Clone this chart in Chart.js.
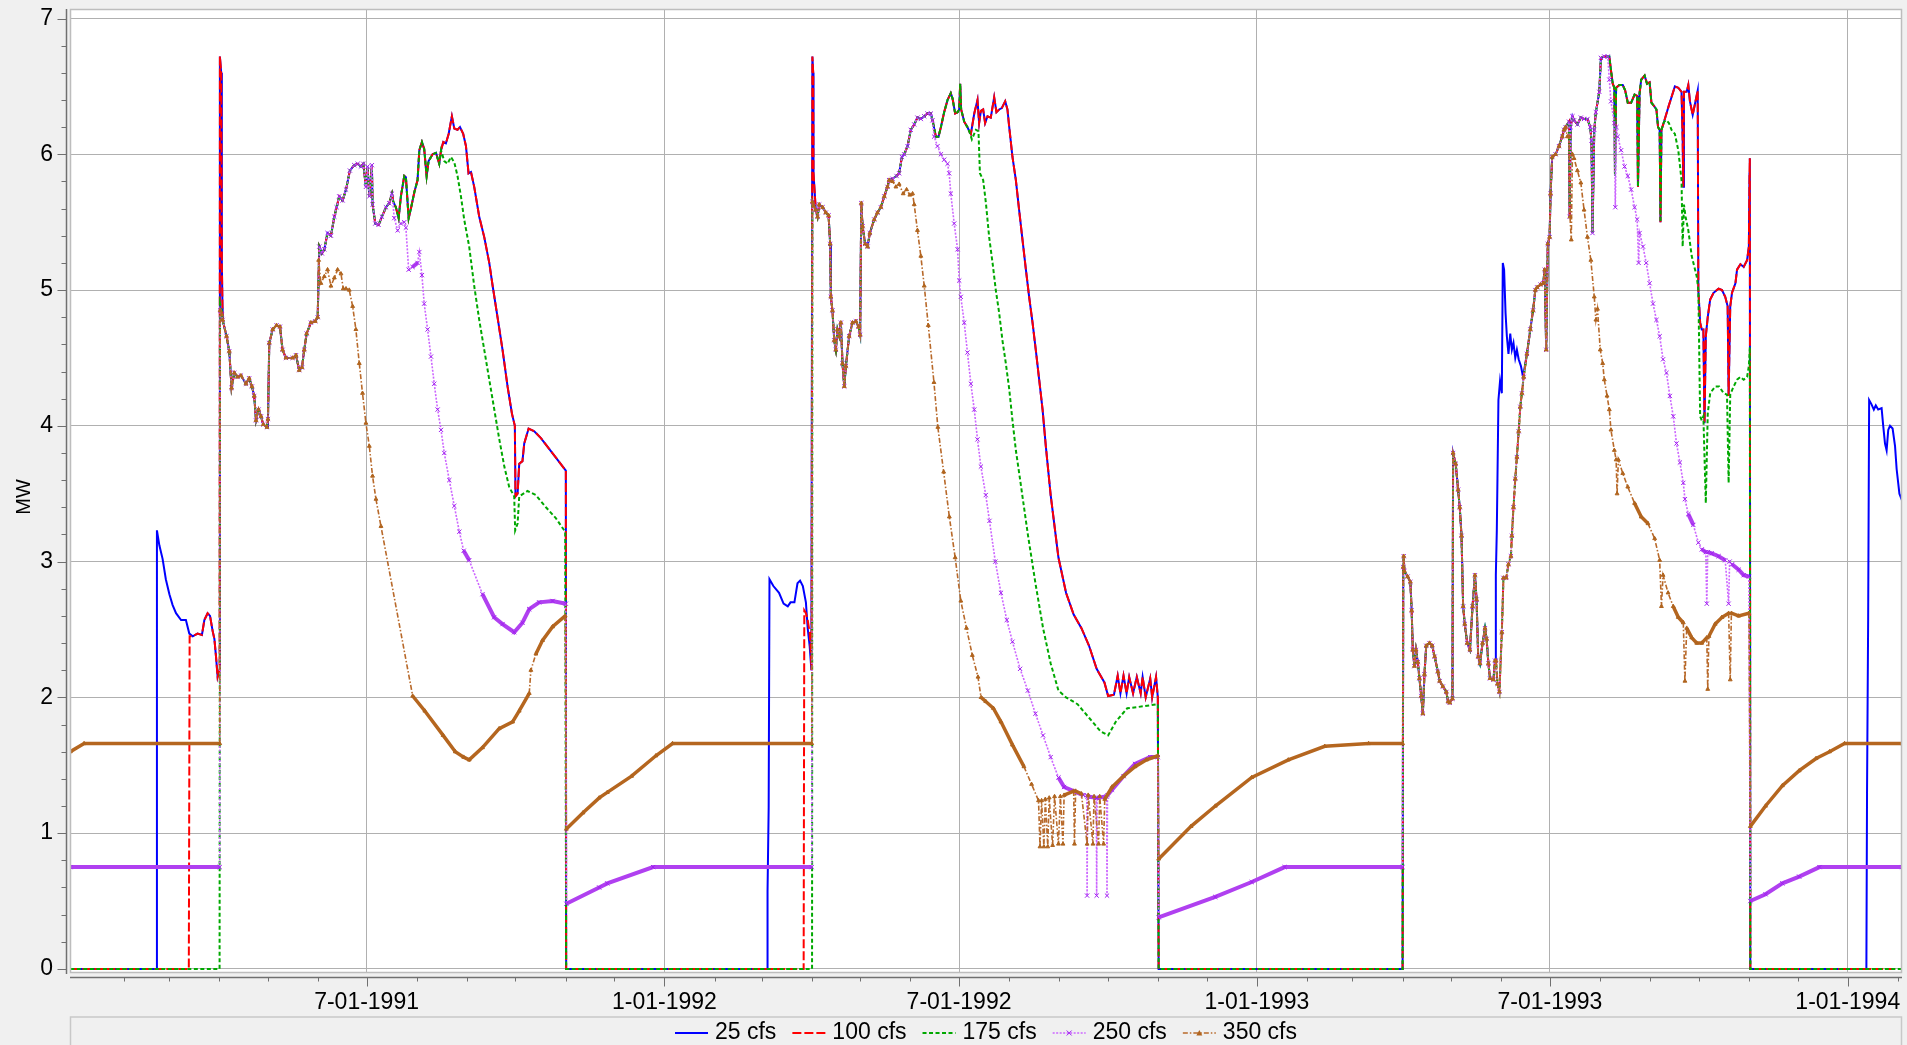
<!DOCTYPE html>
<html><head><meta charset="utf-8">
<script src="https://cdn.jsdelivr.net/npm/chart.js@4.4.1/dist/chart.umd.min.js"></script>
<style>html,body{margin:0;padding:0;background:#f0f0f0;overflow:hidden}</style>
</head><body>
<canvas id="c" width="1907" height="1045"></canvas>
<script>
// x values are day numbers counted from 1991-01-01 (day 0); y values are MW.
const EPOCH = Date.UTC(1991, 0, 1);
const SERIES_LABELS = ['25 cfs', '100 cfs', '175 cfs', '250 cfs', '350 cfs'];
const Y_TICKS = [0, 1, 2, 3, 4, 5, 6, 7];
const X_MIN = -2.2, X_MAX = 1129.5, Y_MIN = -0.03, Y_MAX = 7.07;

// ---- 1991 ----
const blue91pre = [[-2,0],[51.2,0],[51.5,3.23],[53,3.12],[55,3.02],[57,2.87],[59.2,2.76],[61.2,2.68],[63.3,2.62],[66.4,2.57],[69.4,2.57],[71.5,2.47],[73.6,2.45]];
const red91pre = [[-2,0],[71.2,0],[71.7,2.45],[73.6,2.45]];
const common91a = [[76.6,2.47],[79.3,2.46],[80.8,2.57],[82.8,2.62],[84.3,2.60],[85.9,2.49],[87,2.43],[88,2.30],[89,2.15],[90.2,2.2]];
const spike91 = [[90.4,6.72],[91.2,6.6],[91.6,5.2],[92.0,4.87]];
const green91pre = [[-2,0],[90.2,0],[90.5,4.9],[91.5,4.85]];
const purple91pre = [[-2,0.75],[90.3,0.75],[90.6,4.85],[91.5,4.82]];
const brown91pre = [[-2,1.60],[6.5,1.66],[90.3,1.66],[90.6,4.85],[91.5,4.82]];
const main91a = [[92.1,4.78],[94.5,4.66],[96.2,4.55],[97.6,4.28],[99.3,4.39],[101.3,4.36],[103.4,4.37],[106.5,4.31],[108.5,4.35],[110.2,4.29],[111.6,4.22],[112.7,4.04],[114.3,4.12],[115.8,4.07],[117.2,4.01],[119.5,3.99],[120.1,4.05],[120.9,4.61],[123.0,4.71],[125.4,4.74],[127.5,4.73],[129.1,4.56],[131.2,4.50],[135.3,4.50],[137.4,4.52],[139.4,4.41],[141.1,4.43],[142.5,4.56],[144.0,4.68],[146.6,4.76],[149.3,4.77],[150.8,4.80]];
const main91b = [[151.8,5.32],[153.4,5.27],[154.9,5.30],[156.9,5.42],[159.0,5.40],[161.1,5.54],[162.5,5.61],[164.1,5.69],[166.2,5.66],[168.3,5.74],[170.7,5.88],[173.4,5.92],[175.5,5.93],[177.5,5.91],[179.0,5.93],[180.6,5.76],[181.6,5.91],[182.7,5.69],[184.3,5.92],[184.7,5.63],[186.4,5.49],[188.4,5.48],[190.5,5.54],[193.0,5.61],[195.0,5.64],[196.7,5.71]];
const main91c = [[197.5,5.65],[199.1,5.61],[200.8,5.53],[202.2,5.69],[204.3,5.84],[205.3,5.83],[207.0,5.53],[208.4,5.60],[210.5,5.72],[212.5,5.81],[213.6,6.03],[215.2,6.09],[216.6,6.04],[218.1,5.84],[219.3,5.95],[221.8,6.00],[223.9,6.01],[225.9,5.93],[227.0,6.03]];
const red91tail = [[228.4,6.09],[230.0,6.08],[231.7,6.15],[233.7,6.28],[235.2,6.19],[237.2,6.18],[238.7,6.20],[240.7,6.15],[242.4,6.06],[244.0,5.86],[245.5,5.87],[247.5,5.76],[250.6,5.54],[253.7,5.39],[256.8,5.20],[258.9,5.03],[261.9,4.80],[265.0,4.56],[268.1,4.29],[270.8,4.09],[272.6,4.00],[273.0,3.48],[274.3,3.50],[275.3,3.72],[277.3,3.74],[278.4,3.87],[281.1,3.98],[284.6,3.96],[288.7,3.91],[293.8,3.83],[299.0,3.75],[304.1,3.67],[304.3,0]];
const green91tail = [[229.0,5.95],[231.0,5.93],[233.1,5.98],[235.2,5.94],[237.2,5.84],[239.3,5.69],[241.3,5.52],[244.4,5.32],[247.5,5.03],[250.6,4.78],[253.7,4.56],[256.8,4.34],[259.9,4.12],[263.0,3.90],[266.1,3.70],[269.1,3.55],[272.2,3.48],[272.8,3.23],[274.3,3.28],[275.3,3.48],[280.4,3.52],[285.6,3.49],[291.8,3.40],[297.9,3.32],[303.7,3.22],[304.3,0]];
const purple91tail = [[198.1,5.53],[200.2,5.44],[202.2,5.49],[204.3,5.50],[205.3,5.46],[207.0,5.15],[209.4,5.17],[212.5,5.20],[213.6,5.28],[215.2,5.11],[216.6,4.90],[218.7,4.71],[220.8,4.51],[222.8,4.31],[224.9,4.12],[227.0,3.97],[229.0,3.80],[232.1,3.60],[235.2,3.41],[238.3,3.22],[241.0,3.08],[244.4,3.01],[252.6,2.76],[259.8,2.59],[265.0,2.54],[272.2,2.48],[277.3,2.55],[281.5,2.65],[287.6,2.70],[295.9,2.71],[304.1,2.69],[304.4,0.48]];
const brown91tail = [[151.4,5.22],[152.8,5.05],[154.9,5.10],[156.9,5.15],[159.0,5.03],[161.1,5.09],[163.1,5.15],[165.2,5.12],[166.6,5.01],[168.3,5.01],[170.3,5.00],[172.4,4.88],[174.4,4.71],[176.5,4.46],[178.5,4.24],[180.6,4.02],[182.7,3.85],[184.7,3.63],[186.8,3.46],[189.9,3.26],[209.5,2.01],[217,1.90],[228.3,1.72],[235.8,1.60],[241,1.56],[244.4,1.54],[252.6,1.63],[262.9,1.77],[271.2,1.82],[275.3,1.90],[281.5,2.03],[282.5,2.20],[285.6,2.32],[289.7,2.42],[295.9,2.52],[303.7,2.60],[304.4,1.03]];

// ---- winter 1991-92 and 1992 ----
const brown9192 = [[314.7,1.15],[324.7,1.26],[329.7,1.30],[344.7,1.42],[359.7,1.57],[370,1.66],[456.0,1.66]];
const purple9192 = [[324.7,0.60],[329.7,0.63],[358,0.75],[456.0,0.75]];
const blue9192 = [[304.4,0],[428.5,0],[428.7,0.57],[429.4,1.19],[429.9,2.87],[432.3,2.82],[435.8,2.77],[438.6,2.69],[441.2,2.67],[442.9,2.70],[445.3,2.70],[447.2,2.84],[448.8,2.86],[450.5,2.82],[452.4,2.70],[453.5,2.51],[454.7,2.38],[455.8,2.2]];
const red9192 = [[304.4,0],[451.0,0],[451.4,2.64],[452.4,2.62],[453.5,2.57],[454.7,2.48],[455.4,2.34],[455.9,2.2]];
const green9192 = [[304.4,0],[456.2,0]];
const spike92 = [[456.4,6.72],[456.9,6.6],[457.1,5.86]];
const spike92low = [[456.4,5.65],[457.3,5.62]];
const main92a = [[458.5,5.59],[459.6,5.54],[460.6,5.63],[462.7,5.61],[464.7,5.57],[466.4,5.55],[467.4,5.34],[467.8,4.95],[468.8,4.85],[469.9,4.63],[470.9,4.56],[471.9,4.71],[473.0,4.66],[474.0,4.76],[475.0,4.46],[476.1,4.29],[477.1,4.44],[479.1,4.66],[481.2,4.76],[483.3,4.77],[484.9,4.73],[485.9,4.67],[486.6,5.64],[487.4,5.47],[489.0,5.34],[490.5,5.32],[491.9,5.42],[494.6,5.52],[496.6,5.57],[498.7,5.61],[500.8,5.69],[502.8,5.76],[503.8,5.81]];
const main92b = [[505.9,5.82],[508.4,5.84],[510.0,5.86],[511.7,5.98],[513.1,6.00],[515.2,6.06],[517.2,6.18],[519.3,6.22],[521.3,6.27],[523.4,6.26],[525.5,6.28],[527.5,6.30],[529.6,6.30],[530.6,6.25]];
const main92c = [[532.7,6.13],[534.3,6.13],[535.8,6.20],[537.8,6.31],[539.9,6.40],[541.9,6.45],[543.0,6.41],[544.6,6.30],[546.1,6.31],[547.1,6.33],[547.7,6.52],[548.3,6.33],[550.2,6.24],[552.2,6.20],[553.3,6.17]];
const red92tail = [[554.3,6.15],[556.4,6.30],[558.4,6.40],[559.4,6.23],[560.5,6.32],[561.9,6.33],[563.1,6.23],[564.6,6.28],[566.6,6.27],[568.7,6.42],[570.1,6.31],[571.8,6.33],[573.4,6.34],[575.5,6.39],[576.9,6.33],[578.0,6.20],[580.0,5.98],[582.1,5.81],[584.1,5.59],[586.2,5.37],[588.3,5.15],[590.3,4.95],[592.4,4.76],[594.4,4.56],[596.5,4.34],[598.6,4.12],[600.6,3.85],[603.6,3.49],[608.4,3.03],[613.1,2.77],[617.8,2.61],[622.6,2.51],[627.3,2.38],[632.0,2.21],[636.8,2.11],[639.1,2.01],[642.7,2.02],[645.0,2.16],[646.7,2.03],[648.6,2.16],[650.5,2.03],[652.1,2.15],[654.5,2.03],[656.8,2.15],[659.2,2.03],[660.4,2.15],[662.3,2.00],[665.1,2.14],[666.3,2.00],[668.7,2.15],[669.8,2.00],[670.3,0]];
const green92tail = [[554.9,6.11],[557.4,6.18],[559.0,6.17],[559.9,5.86],[561.9,5.81],[563.6,5.64],[565.6,5.39],[567.7,5.20],[569.7,5.00],[571.8,4.83],[573.8,4.63],[575.9,4.46],[578.0,4.27],[580.0,4.04],[582.1,3.82],[584.4,3.63],[589.5,3.20],[594.2,2.84],[598.9,2.51],[603.6,2.25],[608.4,2.05],[613.1,2.00],[620.2,1.95],[627.3,1.85],[634.4,1.75],[639.1,1.72],[643.8,1.82],[650.9,1.92],[658.0,1.93],[669.8,1.95],[670.3,0]];
const purple92tail = [[531.6,6.13],[533.7,6.06],[535.8,6.00],[537.8,5.96],[539.9,5.93],[540.9,5.86],[541.9,5.71],[544.0,5.49],[546.1,5.30],[547.1,5.07],[548.1,4.95],[550.2,4.76],[552.2,4.54],[554.3,4.31],[556.4,4.12],[558.4,3.90],[560.5,3.70],[563.5,3.49],[565.8,3.30],[569.4,3.00],[572.9,2.77],[576.5,2.57],[580.0,2.41],[584.7,2.21],[589.5,2.05],[594.2,1.88],[598.9,1.72],[603.6,1.56],[608.4,1.41],[611.9,1.34],[617.8,1.31],[623.7,1.28],[625.9,1.28],[626.1,0.54],[626.4,1.27],[631.8,1.26],[632.0,0.54],[632.3,1.26],[638.2,1.27],[638.4,0.54],[638.7,1.28],[641.5,1.32],[648.6,1.42],[655.7,1.51],[665.1,1.56],[669.8,1.56],[670.3,0.38]];
const brown92tail = [[505.9,5.80],[508.0,5.76],[510.0,5.78],[512.5,5.71],[514.6,5.74],[516.6,5.70],[518.3,5.71],[519.3,5.63],[521.3,5.44],[523.4,5.25],[525.5,5.03],[528.0,4.74],[531.5,4.32],[533.9,3.99],[537.5,3.66],[541.0,3.33],[544.6,3.03],[548.1,2.71],[551.6,2.51],[555.2,2.31],[558.7,2.15],[560.6,2.00],[563.5,1.97],[568.2,1.92],[572.9,1.82],[580.0,1.65],[587.1,1.49],[591.8,1.36],[596.1,1.24],[597.0,0.90],[598.0,1.24],[599.4,0.90],[600.3,1.25],[601.8,0.90],[602.7,1.26],[604.8,0.91],[606.0,1.27],[608.4,0.92],[609.6,1.27],[611.2,0.92],[611.9,1.28],[617.8,1.31],[618.3,0.92],[619.0,1.31],[622.6,1.29],[626.1,0.92],[626.8,1.28],[629.7,0.92],[630.4,1.27],[633.2,0.92],[633.9,1.27],[636.3,0.92],[637.0,1.25],[641.5,1.34],[648.6,1.42],[655.7,1.49],[662.8,1.54],[669.8,1.57],[670.3,0.81]];

// ---- winter 1992-93 and 1993 ----
const brown9293 = [[690.3,1.05],[705.3,1.20],[727.8,1.41],[750.4,1.54],[772.9,1.64],[800,1.66],[821.0,1.66]];
const purple9293 = [[705.3,0.53],[727.8,0.64],[748.1,0.75],[821.0,0.75]];
const zero9293 = [[670.3,0],[821.0,0]];
const main93a = [[821.4,2.96],[821.7,3.04],[822.1,2.93],[824.1,2.89],[825.8,2.85],[826.6,2.64],[827.3,2.35],[828.3,2.23],[829.3,2.35],[830.4,2.26],[831.4,2.14],[832.5,2.01],[833.5,1.88],[834.5,2.17],[835.6,2.38],[837.6,2.40],[839.3,2.38],[840.8,2.30],[842.8,2.19],[843.9,2.12],[845.9,2.08],[848.0,2.04],[849.1,1.97],[850.1,1.96],[851.8,1.99],[852.2,3.80],[853.8,3.72],[855.3,3.53],[856.3,3.40],[857.4,3.19],[858.4,2.67],[859.4,2.54],[860.9,2.40],[862.6,2.35],[864.2,2.67],[865.7,2.90],[866.7,2.72],[867.7,2.30],[868.8,2.25],[870.4,2.40],[871.9,2.51],[872.9,2.43],[874.0,2.25],[875.0,2.14],[877.1,2.13],[878.1,2.27]];
const blue93 = [[878.6,2.9],[879.2,3.23],[879.6,3.61],[880.2,4.19],[881.2,4.33],[882.3,4.24],[882.9,5.20],[883.7,5.15],[884.6,4.83],[885.4,4.66],[886.4,4.53],[887.5,4.68],[888.5,4.56],[889.5,4.61],[890.6,4.50],[891.6,4.56],[892.7,4.49],[894.1,4.44],[895.4,4.36]];
const nonblue93 = [[878.7,2.27],[879.6,2.10],[880.8,2.04],[882.3,2.48],[883.3,2.88],[885.0,2.88],[886.4,2.98],[887.9,3.04],[888.5,3.19],[889.5,3.40],[890.6,3.61],[891.6,3.77],[892.7,3.96],[893.7,4.14],[894.7,4.24]];
const main93b = [[895.8,4.36],[897.8,4.53],[899.9,4.71],[901.6,4.85],[903.0,5.00],[904.1,5.02],[906.2,5.04],[907.8,5.05],[908.8,5.15],[909.7,4.56],[910.7,5.34],[911.8,5.39],[912.4,5.71],[913.4,5.98],[915.5,6.00],[917.6,6.06],[919.6,6.13],[920.7,6.18],[921.7,6.20]];
const main93c = [[923.8,6.24],[924.2,5.54],[924.8,6.20],[925.9,6.28],[926.9,6.25],[929.0,6.22],[931.1,6.27],[933.1,6.26],[935.2,6.26],[936.9,6.20],[937.7,6.10],[938.3,5.42],[939.4,6.18],[940.4,6.31],[942.5,6.46],[943.5,6.71],[945.6,6.72],[947.7,6.72]];
const main93d = [[948.7,6.72],[949.7,6.62],[950.8,6.52],[951.8,6.49],[952.2,5.84],[952.9,6.49],[954.9,6.51],[957.0,6.51],[958.5,6.47],[960.1,6.38],[962.2,6.38],[964.3,6.44],[965.9,6.43],[966.4,5.76],[967.4,6.45],[968.4,6.55],[970.5,6.58],[972.0,6.52],[973.6,6.53],[974.7,6.38],[976.7,6.35],[977.8,6.33],[978.8,6.20],[979.8,6.18],[980.3,5.50],[980.9,6.18]];
const red93tail = [[982.5,6.24],[984.0,6.30],[985.5,6.36],[987.1,6.42],[989.2,6.50],[991.3,6.49],[993.3,6.46],[994.0,6.11],[994.4,5.76],[994.8,6.46],[996.5,6.46],[997.5,6.51],[998.5,6.39],[1000.2,6.29],[1001.6,6.37],[1003.3,6.47],[1003.7,5.00],[1004.8,4.76],[1005.8,4.71],[1006.8,4.71],[1007.5,4.02],[1008.3,4.66],[1009.5,4.80],[1011.0,4.93],[1013.1,4.98],[1016.2,5.01],[1018.3,5.00],[1020.3,4.95],[1021.8,4.88],[1022.4,4.22],[1023.4,4.88],[1024.5,4.98],[1026.6,5.05],[1027.6,5.15],[1029.7,5.19],[1031.7,5.17],[1033.8,5.22],[1034.9,5.32],[1035.3,5.86],[1035.5,5.97],[1035.8,0]];
const green93tail = [[982.5,6.24],[984.0,6.25],[985.5,6.23],[987.1,6.18],[989.2,6.15],[991.3,6.03],[993.3,5.81],[994.0,5.32],[994.8,5.63],[995.8,5.54],[997.5,5.44],[999.6,5.25],[1002.7,5.10],[1003.7,5.00],[1004.8,4.07],[1005.8,4.04],[1006.8,4.07],[1008.3,3.43],[1009.5,4.09],[1011.0,4.24],[1014.1,4.29],[1016.6,4.29],[1019.3,4.24],[1021.4,4.23],[1022.4,3.58],[1023.4,4.23],[1025.5,4.29],[1027.6,4.34],[1029.7,4.36],[1031.7,4.34],[1033.8,4.36],[1034.9,4.44],[1035.5,4.58],[1035.8,0]];
const purple93tail = [[948.7,6.55],[949.7,6.39],[951.8,6.23],[952.4,5.61],[953.1,6.20],[953.9,6.13],[956.0,6.03],[958.1,5.91],[960.1,5.84],[962.2,5.74],[964.3,5.61],[965.9,5.52],[966.8,5.20],[967.4,5.42],[969.5,5.32],[971.5,5.20],[973.6,5.05],[975.7,4.90],[977.8,4.78],[979.8,4.66],[981.9,4.49],[984.0,4.39],[986.1,4.22],[988.2,4.07],[990.2,3.87],[992.3,3.73],[994.4,3.58],[995.4,3.46],[997.5,3.35],[1000.6,3.27],[1003.7,3.14],[1005.8,3.09],[1008.3,3.07],[1008.9,2.69],[1009.5,3.07],[1012.0,3.06],[1016.2,3.04],[1020.3,3.01],[1022.4,2.69],[1023.0,3.00],[1024.5,2.98],[1028.6,2.94],[1031.7,2.90],[1034.9,2.89],[1035.8,0.50]];
const brown93tail = [[922.8,6.13],[923.8,6.13],[924.4,5.54],[925.2,5.37],[925.9,6.00],[926.9,5.97],[929.0,5.88],[931.1,5.79],[933.1,5.59],[935.2,5.39],[937.3,5.22],[939.4,4.95],[940.4,4.78],[941.4,4.86],[943.1,4.56],[944.6,4.46],[945.6,4.34],[947.3,4.22],[948.7,4.12],[949.7,3.97],[951.8,3.82],[952.9,3.75],[953.5,3.50],[954.3,3.75],[957.0,3.65],[960.1,3.55],[964.3,3.43],[968.4,3.33],[972.6,3.28],[976.7,3.17],[979.8,3.01],[980.9,2.67],[981.9,2.90],[985.0,2.77],[988.2,2.67],[991.3,2.59],[994.4,2.55],[995.4,2.12],[996.5,2.51],[999.6,2.44],[1002.7,2.40],[1005.8,2.40],[1008.9,2.44],[1009.5,2.06],[1010.2,2.45],[1014.1,2.54],[1018.3,2.59],[1022.4,2.62],[1023.4,2.13],[1024.1,2.62],[1028.6,2.60],[1034.9,2.62],[1035.8,1.05]];

// ---- winter 1993-94 ----
const brown9394 = [[1045.2,1.20],[1055.6,1.35],[1066.0,1.46],[1076.4,1.55],[1084.7,1.60],[1094.0,1.66],[1129.5,1.66]];
const purple9394 = [[1045.2,0.55],[1055.6,0.63],[1066.0,0.68],[1078.5,0.75],[1129.5,0.75]];
const blue9394 = [[1035.8,0],[1107.5,0],[1107.9,1.30],[1108.6,2.59],[1109.2,4.19],[1110.6,4.16],[1112.1,4.12],[1113.3,4.15],[1114.8,4.12],[1116.9,4.13],[1117.9,4.00],[1119.0,3.87],[1120.0,3.82],[1121.0,3.97],[1122.1,4.00],[1123.7,3.98],[1125.2,3.85],[1126.2,3.68],[1127.9,3.50],[1129.5,3.45]];
const zero9394 = [[1035.8,0],[1129.5,0]];

// stretches that all (or most) series share
const SHARED = new Set([main91a, main91b, main91c, spike92low, main92a, main92b, main92c, main93a, nonblue93, main93b, main93c, main93d]);

function build(parts) {
  const pts = [], shared = [];
  parts.forEach(p => p.forEach(q => { pts.push({x: q[0], y: q[1]}); shared.push(SHARED.has(p)); }));
  return {pts, shared};
}
const cfs25 = build([blue91pre, common91a, spike91, main91a, main91b, main91c, red91tail, blue9192, spike92, main92a, main92b, main92c, red92tail, zero9293, main93a, blue93, main93b, main93c, main93d, red93tail, blue9394]);
const cfs100 = build([red91pre, common91a, spike91, main91a, main91b, main91c, red91tail, red9192, spike92, main92a, main92b, main92c, red92tail, zero9293, main93a, nonblue93, main93b, main93c, main93d, red93tail, zero9394]);
const cfs175 = build([green91pre, main91a, main91b, main91c, green91tail, green9192, spike92low, main92a, main92b, main92c, green92tail, zero9293, main93a, nonblue93, main93b, main93c, main93d, green93tail, zero9394]);
const cfs250 = build([purple91pre, main91a, main91b, purple91tail, purple9192, spike92low, main92a, main92b, purple92tail, purple9293, main93a, nonblue93, main93b, main93c, purple93tail, purple9394]);
const cfs350 = build([brown91pre, main91a, brown91tail, brown9192, spike92low, main92a, brown92tail, brown9293, main93a, nonblue93, main93b, brown93tail, brown9394]);

// month ticks (axis furniture)
const MONTH_TICKS = [], MAJOR = new Map();
for (let y = 1991; y <= 1994; y++) for (let m = 0; m < 12; m++) {
  const d = (Date.UTC(y, m, 1) - EPOCH) / 86400000;
  if (d > 0.5 && d < X_MAX) { MONTH_TICKS.push(d); if (m === 0 || m === 6) MAJOR.set(d, (m + 1) + '-01-' + y); }
}

const FONT = "'Liberation Sans', Arial, sans-serif";

// long, flattish stretches of the marker series look like a dense band of markers
function bandSegment(series, color, width) {
  const flat = c => {
    if (series.shared[c.p0DataIndex] && series.shared[c.p1DataIndex]) return false;
    const dx = Math.abs(c.p1.x - c.p0.x), dy = Math.abs(c.p1.y - c.p0.y);
    return dx > 4 && dy / dx < 2.2;
  };
  return {
    borderWidth: c => flat(c) ? width : undefined,
    borderDash: c => flat(c) ? [] : undefined,
    borderColor: c => flat(c) ? color : undefined
  };
}

const datasets = [
  {label: SERIES_LABELS[0], data: cfs25.pts, borderColor: '#0000ff', borderWidth: 2, pointRadius: 0, order: 5},
  {label: SERIES_LABELS[1], data: cfs100.pts, borderColor: '#ff0000', borderWidth: 2, borderDash: [9, 3], pointRadius: 0, order: 4},
  {label: SERIES_LABELS[2], data: cfs175.pts, borderColor: '#00a800', borderWidth: 2, borderDash: [4, 2.5], pointRadius: 0, order: 3},
  {label: SERIES_LABELS[3], data: cfs250.pts, borderColor: '#cc66ff', borderWidth: 1.6, borderDash: [2, 1.5], pointStyle: 'crossRot', pointRadius: 3, pointBorderColor: '#a020f0', pointBorderWidth: 1, pointBackgroundColor: '#a020f0', order: 2,
    segment: bandSegment(cfs250, '#b040f0', 4)},
  {label: SERIES_LABELS[4], data: cfs350.pts, borderColor: '#b8692a', borderWidth: 1.6, borderDash: [5, 2, 1.5, 2], pointStyle: 'triangle', pointRadius: 2.2, pointBorderColor: '#b0641e', pointBackgroundColor: '#b0641e', pointBorderWidth: 1, order: 1,
    segment: bandSegment(cfs350, '#b5661f', 3.5)}
];

function seg(ctx, x1, y1, x2, y2) { ctx.beginPath(); ctx.moveTo(x1, y1); ctx.lineTo(x2, y2); ctx.stroke(); }

const framePlugin = {
  id: 'frame',
  beforeDraw(chart) {
    const {ctx, chartArea: a, width, height} = chart;
    ctx.save();
    ctx.fillStyle = '#f0f0f0'; ctx.fillRect(0, 0, width, height);
    ctx.fillStyle = '#ffffff'; ctx.fillRect(a.left, a.top, a.right - a.left, a.bottom - a.top);
    ctx.restore();
  },
  afterDraw(chart) {
    const {ctx, chartArea: a} = chart;
    const xs = chart.scales.x, ys = chart.scales.y;
    ctx.save();
    ctx.setLineDash([]);
    // plot frame
    ctx.strokeStyle = '#bdbdbd'; ctx.lineWidth = 1.5;
    ctx.strokeRect(a.left + 0.5, a.top + 0.5, a.right - a.left - 1, a.bottom - a.top - 1);
    // y axis line + ticks
    ctx.strokeStyle = '#707070'; ctx.lineWidth = 1.5;
    const ax = a.left - 3.5;
    seg(ctx, ax, a.top, ax, a.bottom + 1);
    ctx.lineWidth = 1;
    for (let i = 0; i <= 35; i++) {
      const py = Math.round(ys.getPixelForValue(i * 0.2)) + 0.5;
      const major = i % 5 === 0;
      seg(ctx, major ? ax - 9 : ax - 5, py, ax, py);
    }
    // x axis line + ticks
    const ay = a.bottom + 4.5;
    ctx.lineWidth = 1.5;
    seg(ctx, a.left, ay, a.right, ay);
    ctx.lineWidth = 1;
    MONTH_TICKS.forEach(d => {
      const px = Math.round(xs.getPixelForValue(d)) + 0.5;
      seg(ctx, px, ay, px, ay + (MAJOR.has(d) ? 9 : 4));
    });
    // y axis title
    ctx.fillStyle = '#000';
    ctx.font = '20px ' + FONT;
    ctx.textAlign = 'center'; ctx.textBaseline = 'middle';
    ctx.save(); ctx.translate(24, 497); ctx.rotate(-Math.PI / 2); ctx.fillText('MW', 0, 0); ctx.restore();
    // legend box
    ctx.strokeStyle = '#c8c8c8'; ctx.lineWidth = 1.5;
    ctx.strokeRect(a.left + 0.5, 1017, a.right - a.left - 1, 60);
    // legend items
    ctx.font = '23px ' + FONT;
    const sw = 33, g1 = 7, g2 = 16, ly = 1033;
    const tw = chart.data.datasets.map(ds => ctx.measureText(ds.label).width);
    const total = tw.reduce((s, w) => s + sw + g1 + w, 0) + g2 * (tw.length - 1);
    let lx = (a.left + a.right) / 2 - total / 2;
    chart.data.datasets.forEach((ds, i) => {
      ctx.strokeStyle = ds.borderColor; ctx.lineWidth = ds.borderWidth;
      ctx.setLineDash(ds.borderDash || []);
      seg(ctx, lx, ly, lx + sw, ly);
      ctx.setLineDash([]);
      const cx = lx + sw / 2;
      if (ds.pointStyle === 'crossRot') {
        ctx.strokeStyle = ds.pointBorderColor; ctx.lineWidth = 1;
        seg(ctx, cx - 2.5, ly - 2.5, cx + 2.5, ly + 2.5); seg(ctx, cx - 2.5, ly + 2.5, cx + 2.5, ly - 2.5);
      } else if (ds.pointStyle === 'triangle') {
        ctx.fillStyle = ds.pointBackgroundColor;
        ctx.beginPath(); ctx.moveTo(cx, ly - 3); ctx.lineTo(cx + 3, ly + 2.5); ctx.lineTo(cx - 3, ly + 2.5); ctx.closePath(); ctx.fill();
      }
      ctx.fillStyle = '#000'; ctx.textAlign = 'left'; ctx.textBaseline = 'middle';
      ctx.fillText(ds.label, lx + sw + g1, ly);
      lx += sw + g1 + tw[i] + g2;
    });
    ctx.restore();
  }
};

new Chart(document.getElementById('c'), {
  type: 'line',
  data: {datasets},
  options: {
    responsive: false, animation: false, devicePixelRatio: 1,
    layout: {padding: {left: 0, right: 4, top: 9, bottom: 0}},
    plugins: {legend: {display: false}, tooltip: {enabled: false}},
    elements: {line: {tension: 0}},
    scales: {
      x: {
        type: 'linear', min: X_MIN, max: X_MAX,
        afterBuildTicks(s) { s.ticks = MONTH_TICKS.map(v => ({value: v})); },
        afterFit(s) { s.height = 72; s.paddingLeft = 0; s.paddingRight = 0; },
        ticks: {autoSkip: false, maxRotation: 0, minRotation: 0, padding: 16, color: '#000',
          font: {family: FONT, size: 23}, callback: v => MAJOR.get(v) || ''},
        grid: {drawTicks: false, lineWidth: 1, color: c => (c.tick && MAJOR.has(c.tick.value)) ? '#b0b0b0' : 'rgba(0,0,0,0)'},
        border: {display: false}
      },
      y: {
        type: 'linear', min: Y_MIN, max: Y_MAX,
        afterBuildTicks(s) { s.ticks = Y_TICKS.map(v => ({value: v})); },
        afterFit(s) { s.width = 70; s.paddingTop = 0; s.paddingBottom = 0; },
        ticks: {padding: 17, color: '#000', font: {family: FONT, size: 23}, callback: v => String(v)},
        grid: {drawTicks: false, lineWidth: 1, color: '#b0b0b0'},
        border: {display: false}
      }
    }
  },
  plugins: [framePlugin]
});
</script>
</body></html>
